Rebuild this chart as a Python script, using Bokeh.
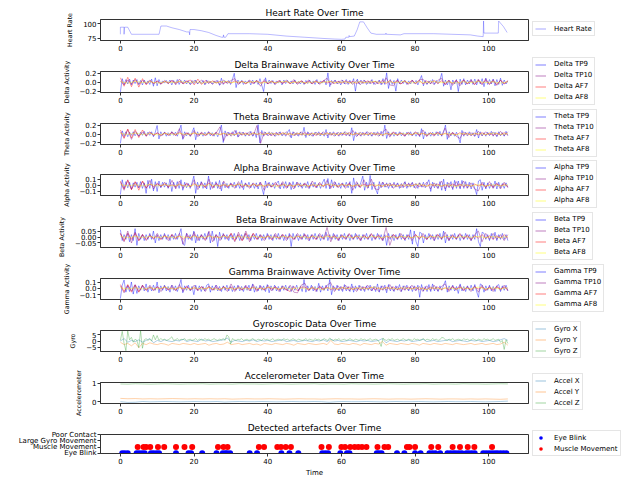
import numpy as np
from bokeh.plotting import figure
from bokeh.layouts import column, row
from bokeh.models import Range1d, FixedTicker, Legend, LegendItem, CustomJSTickFormatter
from bokeh.embed import file_html
from bokeh.resources import INLINE

FONT = "DejaVu Sans"
T_END = 105.2
X_TICKS = [0, 20, 40, 60, 80, 100]

# ---------------- Heart rate (time, bpm) ----------------
HR_T = [0.0, 0.0, 1.0, 1.0, 1.1, 2.0, 3.0, 10.5, 11.0, 12.5, 14.0, 16.0, 17.0, 18.0, 18.7, 18.8, 18.9,
        20.0, 22.0, 24.0, 26.0, 27.5, 27.9, 28.0, 28.1, 28.6, 29.2, 35.0, 40.0, 45.0, 50.0, 55.0,
        58.0, 60.0, 61.0, 61.2, 62.0, 62.1, 62.2, 63.5, 64.3, 65.0, 66.0, 67.0, 68.0, 69.5, 72.0,
        72.1, 72.2, 76.0, 77.0, 85.0, 90.0, 95.0, 97.0, 98.5, 98.6, 98.7, 102.6, 102.7, 104.0, 105.0]
HR_V = [82, 94, 94, 82, 94, 94, 82, 82, 96, 96, 93, 90, 88, 86, 86, 81, 90,
        90, 88, 85, 80, 77, 77, 81, 77, 77, 83, 83, 82, 79, 77, 75,
        74, 73.5, 74, 77, 77, 80, 78, 79, 90, 103, 103, 93, 84, 82, 82,
        84, 82, 81, 83, 83, 82, 81, 79, 78, 104.5, 84, 84, 104.5, 95, 85]

# ---------------- Delta ----------------
DELTA_TP9 = [-0.22, 0.08, -0.05, 0.06, -0.04, 0.07, -0.06, 0.05, -0.03, 0.06, -0.05, 0.04, -0.06, 0.05, -0.04, 0.03, -0.05, 0.07, -0.09, 0.1,
             -0.08, 0.06, -0.04, 0.03, -0.02, 0.04, -0.03, 0.05, -0.06, 0.04, -0.03, 0.06, -0.05, 0.04, -0.03, 0.05, -0.04, 0.03, -0.05, 0.04,
             -0.03, 0.05, -0.04, 0.02, -0.03, 0.04, -0.06, 0.05, -0.03, 0.02, -0.04, 0.03, -0.02, 0.04, -0.07, 0.09, -0.05, 0.03, -0.02, 0.04,
             -0.05, 0.06, 0.2, -0.12, 0.05, -0.03, 0.04, -0.05, 0.03, -0.02, 0.04, -0.06, 0.05, -0.03, 0.04, -0.05, 0.08, -0.07, -0.21, 0.1,
             -0.04, 0.05, -0.03, 0.04, -0.05, 0.03, -0.02, 0.04, -0.06, 0.05, -0.03, 0.04, -0.02, 0.03, -0.04, 0.05, -0.03, 0.02, -0.04, 0.03,
             -0.05, 0.04, -0.03, 0.05, -0.04, 0.03, -0.05, 0.06, -0.04, 0.03, -0.02, 0.05, -0.06, 0.21, -0.1, 0.04, -0.03, 0.05, -0.04, 0.03,
             -0.06, 0.05, -0.04, 0.06, -0.05, 0.04, -0.03, 0.08, -0.2, 0.07, -0.04, 0.05, -0.03, 0.04, -0.05, 0.03, -0.04, 0.06, -0.05, 0.03,
             -0.04, 0.05, -0.06, 0.08, -0.05, 0.21, -0.14, 0.06, -0.05, 0.04, -0.2, 0.08, -0.04, 0.05, -0.03, 0.04, -0.05, 0.03, -0.04, 0.05,
             -0.03, 0.04, -0.06, 0.05, 0.15, -0.08, 0.04, -0.05, 0.03, -0.04, 0.06, -0.05, 0.04, -0.03, 0.05, 0.2, -0.09, 0.05, -0.06, 0.04,
             -0.17, 0.05, -0.04, 0.06, -0.21, 0.07, -0.05, 0.08, -0.06, 0.05, -0.04, 0.06, -0.05, 0.07, -0.06, 0.05, -0.04, 0.08, -0.1, 0.09,
             -0.05, 0.06, -0.04, 0.07, -0.08, 0.06, -0.05, 0.09, -0.07, 0.05, -0.04, 0.03]
DELTA_TP10 = [0.03, -0.06, 0.05, -0.04, 0.06, -0.05, 0.04, -0.03, 0.05, -0.04,
              0.03, -0.05, 0.04, -0.03, 0.05, -0.06, 0.07, -0.04, 0.03, -0.05,
              0.04, -0.03, 0.05, -0.04, 0.03, -0.05, 0.04, -0.06, 0.05, -0.03,
              0.04, 0.08, -0.05, 0.03, -0.04, 0.05, -0.03, 0.04, -0.09, 0.06,
              -0.04, 0.03, -0.05, 0.04, -0.03, 0.05, -0.04, 0.06, -0.05, 0.03,
              -0.04, 0.05, -0.03, 0.04, -0.05, 0.03, 0.09, -0.06, 0.04, -0.03,
              0.05, -0.04, 0.03, -0.05, 0.04, -0.06, 0.05, -0.03, 0.04, -0.05,
              0.03, -0.04, 0.1, -0.06, -0.08, 0.05, -0.04, 0.03, -0.05, 0.04,
              -0.03, 0.05, 0.07, -0.04, 0.03, -0.05, 0.04, 0.09, -0.06, 0.05,
              -0.07, 0.04, -0.08, 0.05, -0.04, 0.06, -0.05, 0.07, -0.06, 0.08,
              -0.05, 0.06, -0.07, 0.05, -0.04, 0.03]
DELTA_AF7 = [0.1, -0.09, 0.11, -0.1, 0.09, -0.11, 0.08, -0.06, 0.03, -0.02,
             0.02, -0.03, 0.02, -0.02, 0.03, -0.02, 0.02, -0.03, 0.02, 0.05,
             -0.06, 0.07, -0.05, 0.04, -0.02, 0.03, -0.02, 0.02, -0.03, 0.02,
             -0.02, 0.03, -0.02, 0.02, -0.03, 0.02, -0.02, 0.03, -0.02, 0.02,
             -0.03, 0.02, -0.02, 0.03, -0.02, 0.02, -0.03, 0.02, -0.02, 0.03,
             -0.02, 0.02, -0.03, 0.02, -0.02, 0.03, -0.02, 0.02, -0.03, 0.02,
             -0.02, 0.03, -0.02, 0.02, -0.03, 0.02, -0.02, 0.03, -0.02, 0.02,
             -0.03, 0.04, -0.03, 0.04, -0.02, 0.03, -0.04, 0.03, -0.03, 0.04,
             -0.03, 0.04, -0.04, 0.03, -0.03, 0.04, -0.03, 0.03, -0.04, 0.03,
             -0.03, 0.04, -0.03, 0.05, -0.04, 0.03, -0.05, 0.04, -0.03, 0.04,
             -0.04, 0.03, -0.05, 0.04, -0.03, 0.03]
DELTA_AF8 = [0.01, -0.02, 0.02, -0.01, 0.01, -0.02, 0.01, -0.01, 0.02, -0.01, 0.01, -0.02, 0.01,
             -0.01, 0.02, -0.01, 0.01, -0.01, 0.02, -0.02, 0.01, -0.01, 0.02, -0.01, 0.01, -0.02,
             0.01, -0.01, 0.02, -0.01, 0.01, -0.02, 0.01, -0.01, 0.02, -0.01, 0.01, -0.01, 0.02,
             -0.02, 0.01, -0.01, 0.02, -0.01, 0.01, -0.02, 0.01, -0.01, 0.02, -0.01, 0.01, -0.02, 0.01]

# ---------------- Theta ----------------
THETA_TP9 = [-0.21, 0.07, -0.04, 0.05, -0.06, 0.04, -0.03, 0.05, -0.04, 0.03, -0.05, 0.04, -0.03, 0.06, -0.05, 0.04, -0.03, 0.05, -0.06, 0.04,
             0.19, -0.11, 0.05, -0.03, 0.04, -0.05, 0.03, -0.04, 0.05, -0.03, 0.04, -0.05, 0.06, 0.2, -0.12, 0.05, -0.04, 0.03, -0.05, 0.04,
             0.14, -0.13, 0.05, -0.04, 0.03, -0.05, 0.04, -0.03, 0.05, -0.04, 0.03, -0.05, 0.04, -0.06, 0.05, 0.2, -0.19, 0.07, -0.05, 0.04,
             -0.03, 0.05, -0.04, 0.08, -0.07, 0.05, -0.03, 0.04, -0.05, 0.03, -0.04, 0.06, -0.05, 0.04, -0.08, 0.21, -0.2, 0.08, -0.05, 0.04,
             -0.03, 0.05, -0.04, 0.03, -0.05, 0.04, -0.03, 0.05, -0.04, 0.03, -0.05, 0.04, 0.1, -0.09, 0.05, -0.04, 0.03, -0.05, 0.04, -0.03,
             0.15, -0.08, 0.05, -0.04, 0.03, -0.05, 0.04, -0.03, 0.05, -0.04, 0.03, -0.05, 0.1, -0.09, 0.04, -0.03, 0.05, -0.04, 0.03, -0.05,
             0.04, -0.03, 0.05, -0.04, 0.03, -0.05, 0.14, -0.15, 0.05, -0.04, 0.03, -0.05, 0.04, -0.03, 0.05, -0.04, 0.03, -0.05, 0.04, -0.03,
             0.05, -0.04, 0.06, -0.05, 0.2, -0.1, 0.05, -0.04, 0.03, -0.05, 0.04, -0.03, 0.05, -0.04, 0.03, -0.05, 0.04, -0.03, 0.05, -0.04,
             0.03, -0.05, 0.04, -0.06, 0.12, -0.11, 0.05, -0.04, 0.03, -0.05, 0.04, -0.03, 0.05, -0.04, 0.06, -0.05, 0.04, 0.2, -0.12, 0.05,
             -0.04, 0.03, -0.05, 0.04, -0.06, -0.2, 0.08, -0.05, 0.04, -0.03, 0.05, -0.04, 0.03, -0.05, 0.1, -0.09, 0.05, -0.04, 0.03, -0.05,
             0.04, -0.03, 0.06, -0.05, 0.04, -0.06, 0.05, -0.04, 0.03, -0.05, 0.06, -0.04]
THETA_TP10 = [0.04, -0.08, 0.1, -0.12, 0.06, -0.05, 0.04, -0.03, 0.05, -0.04,
              0.03, -0.05, 0.04, -0.03, 0.05, -0.04, 0.12, -0.1, 0.03, -0.05,
              0.08, -0.06, 0.04, -0.03, 0.05, -0.04, 0.03, 0.16, -0.15, 0.04,
              -0.05, 0.08, -0.06, 0.04, -0.03, 0.05, -0.04, 0.19, -0.21, 0.05,
              -0.04, 0.03, -0.05, 0.04, -0.03, 0.05, -0.06, 0.04, -0.03, 0.05,
              -0.04, 0.03, -0.05, 0.04, -0.03, 0.05, -0.04, 0.03, -0.05, 0.04,
              -0.03, 0.05, -0.04, 0.08, -0.06, 0.04, -0.03, 0.05, -0.04, 0.03,
              -0.05, 0.04, 0.11, -0.07, 0.05, -0.04, 0.03, -0.05, 0.04, -0.03,
              0.05, -0.04, 0.09, -0.06, 0.03, -0.05, 0.04, -0.03, 0.13, -0.08,
              0.04, -0.05, -0.1, 0.05, -0.04, 0.03, -0.05, 0.06, -0.04, 0.05,
              -0.03, 0.04, -0.05, 0.06, -0.04, 0.05]
THETA_AF7 = [0.09, -0.1, 0.11, -0.09, 0.1, -0.08, 0.09, -0.05, 0.03, -0.02,
             0.02, -0.03, 0.02, -0.02, 0.03, -0.02, 0.04, -0.03, 0.02, -0.02,
             0.03, -0.02, 0.02, -0.03, 0.02, -0.02, 0.03, -0.02, 0.02, -0.03,
             0.02, -0.02, 0.03, -0.02, 0.02, -0.03, 0.03, -0.02, 0.03, -0.02,
             0.02, -0.03, 0.02, -0.02, 0.03, -0.02, 0.02, -0.03, 0.02, -0.02,
             0.03, -0.02, 0.02, -0.03, 0.02, -0.02, 0.03, -0.02, 0.02, -0.03,
             0.02, -0.02, 0.03, -0.02, 0.02, -0.03, 0.02, -0.02, 0.03, -0.02,
             0.02, -0.03, 0.02, -0.02, 0.03, -0.02, 0.02, -0.03, 0.02, -0.02,
             0.03, -0.02, 0.02, -0.03, 0.02, -0.02, 0.03, -0.02, 0.02, -0.03,
             0.02, -0.02, 0.03, -0.02, 0.02, -0.03, 0.02, -0.02, 0.03, -0.02,
             0.02, -0.03, 0.02, -0.02, 0.03, -0.02]
THETA_AF8 = [0.01, -0.01, 0.02, -0.01, 0.01, -0.02, 0.01, -0.01, 0.01, -0.01, 0.02, -0.01, 0.01,
             -0.01, 0.01, -0.02, 0.01, -0.01, 0.01, -0.01, 0.02, -0.01, 0.01, -0.01, 0.01, -0.02,
             0.01, -0.01, 0.01, -0.01, 0.02, -0.01, 0.01, -0.01, 0.01, -0.02, 0.01, -0.01, 0.01,
             -0.01, 0.02, -0.01, 0.01, -0.01, 0.01, -0.02, 0.01, -0.01, 0.01, -0.01, 0.02, -0.01, 0.01]

# ---------------- Alpha ----------------
ALPHA_TP9 = [-0.15, 0.09, -0.05, 0.06, -0.04, 0.05, -0.06, 0.04, -0.03, 0.05, -0.04, 0.06, -0.05, 0.04, -0.13, 0.08, -0.05, 0.1, -0.09, 0.06,
             -0.1, 0.07, -0.04, 0.05, -0.03, 0.04, -0.05, 0.1, -0.1, 0.05, -0.04, 0.06, -0.05, 0.09, -0.08, 0.05, -0.04, 0.03, -0.05, 0.04,
             0.15, -0.13, 0.05, -0.04, 0.06, -0.05, 0.04, -0.06, 0.15, -0.07, 0.05, -0.04, 0.06, -0.05, 0.08, -0.09, 0.05, -0.04, 0.03, -0.05,
             0.04, -0.03, 0.05, -0.04, 0.03, -0.05, 0.08, -0.07, 0.04, -0.03, 0.05, -0.04, 0.03, -0.05, 0.04, -0.06, 0.05, -0.04, -0.15, 0.07,
             -0.04, 0.05, -0.03, 0.04, -0.05, 0.03, 0.07, -0.06, 0.04, -0.05, 0.06, -0.04, 0.05, -0.07, 0.06, -0.04, 0.05, -0.03, 0.04, -0.05,
             0.03, -0.04, 0.06, -0.05, 0.04, -0.03, 0.05, -0.04, 0.03, -0.05, 0.04, 0.1, -0.05, 0.11, -0.06, 0.09, -0.04, 0.05, -0.03, 0.04,
             -0.05, 0.04, -0.03, 0.05, -0.04, 0.06, -0.13, 0.12, -0.05, 0.04, -0.03, 0.05, 0.15, -0.08, 0.05, -0.04, 0.16, -0.07, 0.05, -0.06,
             -0.14, 0.06, -0.04, 0.05, -0.03, 0.04, -0.05, 0.03, -0.04, 0.05, -0.03, 0.04, -0.05, 0.03, -0.04, 0.06, -0.05, 0.04, -0.03, 0.05,
             -0.04, 0.03, -0.05, 0.04, -0.03, 0.05, -0.04, 0.03, 0.09, -0.1, 0.05, -0.04, 0.03, -0.05, 0.06, -0.08, 0.1, -0.09, 0.05, -0.04,
             0.06, -0.07, 0.08, -0.05, 0.07, -0.06, 0.08, -0.05, 0.06, -0.04, 0.05, -0.06, 0.04, -0.05, -0.15, 0.07, 0.09, -0.08, 0.05, -0.06,
             0.04, -0.05, 0.03, -0.04, 0.07, -0.06, 0.05, -0.04, 0.03, -0.05, 0.04, -0.03]
ALPHA_TP10 = [0.05, -0.08, 0.09, -0.07, 0.05, -0.04, 0.06, -0.05, 0.08, -0.06,
              0.04, -0.03, 0.05, -0.04, 0.08, -0.06, 0.07, -0.05, 0.04, -0.03,
              0.09, -0.07, 0.05, -0.04, 0.1, -0.05, 0.04, -0.06, 0.07, -0.04,
              0.03, -0.05, 0.06, -0.04, 0.03, -0.05, 0.04, -0.03, 0.05, -0.08,
              0.04, -0.03, 0.05, -0.04, 0.06, -0.05, 0.04, -0.06, 0.05, -0.03,
              0.04, -0.05, 0.07, -0.04, 0.05, -0.03, 0.08, -0.05, 0.06, -0.04,
              0.03, -0.05, 0.04, -0.08, 0.06, -0.04, 0.09, -0.05, 0.1, -0.06,
              -0.07, 0.05, -0.03, 0.04, -0.05, 0.03, -0.04, 0.05, -0.03, 0.04,
              -0.05, 0.04, -0.03, 0.05, -0.06, 0.04, -0.05, 0.07, -0.06, 0.04,
              -0.05, 0.06, -0.04, 0.07, -0.05, 0.04, -0.06, -0.09, 0.05, -0.04,
              0.06, -0.05, 0.04, -0.06, 0.05, -0.04]
ALPHA_AF7 = [0.07, -0.06, 0.08, -0.07, 0.06, -0.08, 0.07, -0.04, 0.02, -0.02,
             0.02, -0.01, 0.02, -0.02, 0.01, -0.02, 0.02, -0.01, 0.02, -0.02,
             0.03, -0.02, 0.02, -0.03, 0.04, -0.03, 0.02, -0.02, 0.01, -0.02,
             0.02, -0.01, 0.02, -0.02, 0.01, -0.02, 0.02, -0.01, 0.02, -0.02,
             0.01, -0.02, 0.02, -0.01, 0.02, -0.02, 0.01, -0.02, 0.02, -0.01,
             0.02, -0.02, 0.01, -0.02, 0.02, -0.01, 0.02, -0.02, 0.01, -0.02,
             0.02, -0.01, 0.02, -0.02, 0.01, -0.02, 0.02, -0.01, 0.02, -0.02,
             0.01, -0.02, 0.02, -0.01, 0.02, -0.02, 0.01, -0.02, 0.02, -0.01,
             0.02, -0.02, 0.01, -0.02, 0.02, -0.01, 0.02, -0.02, 0.01, -0.02,
             0.02, -0.01, 0.02, -0.02, 0.01, -0.02, 0.02, -0.01, 0.02, -0.02,
             0.01, -0.02, 0.02, -0.01, 0.02, -0.02]
ALPHA_AF8 = [0.01, -0.01, 0.01, -0.01, 0.02, -0.01, 0.01, -0.01, 0.01, -0.02, 0.01, -0.01, 0.01,
             -0.01, 0.01, -0.01, 0.02, -0.01, 0.01, -0.01, 0.01, -0.02, 0.01, -0.01, 0.01, -0.01,
             0.01, -0.01, 0.02, -0.01, 0.01, -0.01, 0.01, -0.02, 0.01, -0.01, 0.01, -0.01, 0.01,
             -0.01, 0.02, -0.01, 0.01, -0.01, 0.01, -0.02, 0.01, -0.01, 0.01, -0.01, 0.01, -0.01, 0.01]

# ---------------- Beta ----------------
BETA_TP9 = [0.06, -0.03, 0.02, -0.02, 0.03, -0.04, 0.02, -0.03, 0.07, -0.07, 0.03, -0.02, 0.02, -0.03, 0.02, -0.02, 0.03, -0.02, 0.05, -0.05,
            0.02, -0.03, 0.02, -0.02, 0.03, -0.02, 0.02, -0.03, 0.02, -0.02, 0.03, -0.02, 0.02, 0.07, -0.06, -0.07, 0.03, -0.02, 0.02, -0.03,
            0.05, -0.05, 0.02, -0.03, 0.02, -0.02, 0.03, -0.02, 0.04, -0.05, 0.05, -0.03, 0.02, -0.08, 0.04, -0.02, 0.03, -0.02, 0.02, -0.03,
            0.02, -0.02, 0.03, -0.02, 0.02, -0.03, 0.02, -0.02, 0.03, -0.02, 0.02, -0.03, 0.02, -0.02, 0.03, -0.02, 0.02, -0.03, 0.02, -0.02,
            0.03, -0.02, 0.02, -0.03, 0.02, -0.02, 0.03, -0.02, 0.02, -0.03, 0.02, -0.02, 0.03, -0.08, 0.03, -0.02, 0.02, -0.03, 0.02, -0.02,
            0.03, -0.02, 0.02, -0.03, 0.02, -0.02, 0.03, -0.02, 0.02, -0.03, 0.02, -0.02, 0.04, -0.03, 0.02, -0.02, 0.03, -0.02, 0.02, -0.03,
            0.02, -0.02, 0.03, -0.02, 0.02, -0.03, 0.02, -0.02, 0.03, -0.02, 0.02, -0.03, 0.02, -0.02, 0.03, -0.02, 0.02, -0.03, 0.02, -0.02,
            0.03, -0.02, 0.02, -0.03, 0.02, -0.07, 0.03, -0.02, 0.02, -0.03, 0.02, -0.02, 0.03, -0.02, 0.02, -0.03, 0.02, -0.02, 0.06, -0.06,
            0.05, -0.04, -0.08, 0.04, 0.03, -0.05, 0.02, -0.02, 0.03, -0.02, 0.02, -0.03, 0.02, -0.02, 0.03, -0.02, 0.05, -0.05, 0.02, -0.03,
            0.02, -0.02, 0.03, -0.02, 0.02, -0.03, 0.02, -0.02, 0.03, -0.02, 0.02, -0.03, 0.02, -0.02, 0.07, -0.04, -0.08, 0.04, 0.03, -0.02,
            0.02, -0.03, 0.03, -0.02, 0.04, -0.03, 0.02, -0.02, 0.03, -0.02, 0.02, -0.03]
BETA_TP10 = [0.03, -0.04, 0.05, -0.05, 0.04, -0.03, 0.02, -0.03, 0.02, -0.02,
             0.03, -0.02, 0.02, -0.03, 0.02, -0.02, 0.03, -0.06, 0.03, -0.02,
             0.04, -0.03, 0.02, -0.03, 0.05, -0.04, 0.02, -0.03, 0.02, -0.02,
             0.03, -0.04, 0.04, -0.03, 0.05, -0.04, 0.03, -0.02, 0.02, -0.03,
             0.02, -0.02, 0.03, -0.02, 0.02, -0.03, 0.02, -0.02, 0.03, -0.02,
             0.02, -0.03, 0.02, -0.02, 0.03, -0.02, 0.08, -0.04, 0.02, -0.03,
             0.02, -0.02, 0.03, -0.02, 0.02, -0.03, 0.02, -0.02, 0.03, -0.02,
             0.02, -0.03, 0.08, -0.07, 0.02, -0.02, 0.03, -0.02, 0.02, -0.03,
             0.02, -0.02, 0.03, -0.02, 0.02, -0.03, 0.02, -0.02, 0.04, -0.03,
             0.02, -0.02, 0.03, -0.02, 0.02, -0.03, 0.02, 0.05, -0.04, 0.03,
             -0.02, 0.03, -0.02, 0.02, -0.03, 0.02]
BETA_AF7 = [0.03, -0.03, 0.03, -0.02, 0.03, -0.03, 0.02, -0.02, 0.01, -0.01,
            0.01, -0.02, 0.01, -0.01, 0.02, -0.01, 0.01, -0.02, 0.01, -0.01,
            0.02, -0.01, 0.01, -0.02, 0.02, -0.01, 0.01, -0.01, 0.02, -0.01,
            0.03, -0.03, 0.02, -0.03, 0.03, -0.02, 0.03, -0.02, 0.01, -0.01,
            0.01, -0.02, 0.01, -0.01, 0.02, -0.01, 0.01, -0.02, 0.01, -0.01,
            0.02, -0.01, 0.01, -0.02, 0.01, -0.01, 0.02, -0.01, 0.01, -0.02,
            0.01, -0.01, 0.02, -0.01, 0.01, -0.02, 0.01, -0.01, 0.02, -0.01,
            0.01, -0.02, 0.01, -0.01, 0.02, -0.01, 0.01, -0.02, 0.01, -0.01,
            0.02, -0.01, 0.01, -0.02, 0.01, -0.01, 0.02, -0.01, 0.01, -0.02,
            0.01, -0.01, 0.02, -0.01, 0.01, -0.02, 0.01, -0.01, 0.02, -0.01,
            0.01, -0.02, 0.01, -0.01, 0.02, -0.01]
BETA_AF8 = [0.004, -0.005, 0.005, -0.004, 0.005, -0.005, 0.004, -0.004, 0.005, -0.005, 0.004, -0.005, 0.005,
            -0.004, 0.005, -0.005, 0.004, -0.004, 0.005, -0.005, 0.004, -0.005, 0.005, -0.004, 0.005, -0.005,
            0.004, -0.004, 0.005, -0.005, 0.004, -0.005, 0.005, -0.004, 0.005, -0.005, 0.004, -0.004, 0.005,
            -0.005, 0.004, -0.005, 0.005, -0.004, 0.005, -0.005, 0.004, -0.004, 0.005, -0.005, 0.004, -0.005, 0.005]

# ---------------- Gamma ----------------
GAMMA_TP9 = [-0.16, 0.05, 0.13, -0.06, 0.04, -0.05, 0.1, -0.09, 0.05, -0.08, 0.04, -0.03, 0.05, -0.04, 0.07, -0.06, 0.03, -0.04, 0.05, -0.03,
             0.1, -0.07, 0.04, -0.03, 0.05, -0.04, 0.03, -0.06, 0.05, -0.03, 0.04, -0.05, 0.03, 0.14, -0.07, 0.04, -0.03, 0.05, -0.04, 0.03,
             -0.1, 0.05, -0.03, 0.04, -0.05, 0.03, -0.04, 0.05, 0.07, -0.06, 0.04, -0.03, 0.05, -0.04, 0.03, -0.05, 0.04, -0.03, 0.05, -0.04,
             0.03, -0.05, 0.04, -0.03, 0.05, -0.04, 0.03, -0.05, 0.04, -0.03, 0.05, -0.04, 0.07, -0.06, 0.03, -0.04, 0.05, -0.03, 0.04, -0.05,
             0.06, -0.07, 0.04, -0.03, 0.05, -0.04, 0.03, -0.05, 0.04, -0.03, 0.05, -0.04, 0.03, -0.05, 0.04, -0.03, 0.05, -0.04, 0.03, -0.05,
             0.14, -0.06, 0.04, -0.03, 0.05, -0.04, 0.03, -0.05, 0.08, -0.06, 0.04, -0.03, 0.05, -0.04, 0.14, -0.1, 0.04, -0.03, 0.05, -0.04,
             0.03, -0.05, 0.06, -0.04, 0.03, -0.05, 0.07, -0.06, 0.04, -0.03, 0.05, -0.04, 0.03, -0.05, 0.04, -0.03, 0.05, -0.04, 0.03, -0.05,
             0.07, -0.06, 0.04, -0.03, 0.05, -0.07, 0.06, -0.04, 0.03, -0.05, 0.04, -0.03, 0.06, -0.05, 0.04, -0.03, 0.05, -0.04, 0.03, -0.05,
             0.04, -0.03, 0.05, -0.14, 0.06, -0.04, 0.03, -0.05, 0.06, -0.05, 0.07, -0.04, 0.03, -0.05, 0.04, -0.03, 0.05, 0.12, -0.06, 0.04,
             -0.03, 0.05, -0.04, 0.03, -0.08, 0.07, -0.04, 0.03, -0.05, 0.04, -0.03, 0.05, -0.04, 0.06, -0.05, -0.14, 0.07, 0.05, -0.06, 0.04,
             -0.03, 0.05, -0.04, 0.03, -0.05, 0.04, 0.06, -0.05, 0.04, -0.03, 0.05, -0.04]
GAMMA_TP10 = [0.04, -0.07, 0.05, -0.04, 0.06, -0.05, 0.04, -0.03, 0.05, -0.04,
              0.03, -0.05, 0.04, -0.03, 0.05, -0.04, 0.06, -0.05, 0.04, -0.03,
              0.05, -0.04, 0.03, -0.05, 0.04, -0.03, 0.05, -0.04, 0.03, -0.05,
              0.07, -0.05, 0.04, -0.03, 0.05, -0.04, 0.06, -0.05, 0.04, -0.03,
              0.05, -0.04, 0.03, -0.05, 0.04, -0.03, 0.05, -0.06, -0.07, 0.05,
              0.08, -0.04, 0.03, -0.05, 0.04, -0.03, 0.05, 0.09, -0.05, 0.04,
              -0.03, 0.05, -0.04, 0.03, -0.05, 0.04, -0.03, 0.05, -0.04, 0.03,
              -0.05, 0.04, -0.03, 0.06, -0.04, 0.03, -0.05, 0.04, -0.03, 0.05,
              -0.04, 0.03, -0.05, 0.04, -0.03, 0.05, -0.04, 0.03, 0.07, -0.05,
              0.04, -0.03, 0.05, -0.04, 0.03, -0.05, 0.04, -0.06, 0.05, -0.04,
              0.03, -0.05, 0.04, -0.03, 0.05, -0.04]
GAMMA_AF7 = [0.06, -0.05, 0.06, -0.06, 0.05, -0.06, 0.05, -0.03, 0.02, -0.02,
             0.02, -0.01, 0.02, -0.02, 0.01, -0.02, 0.02, -0.01, 0.02, -0.02,
             0.01, -0.02, 0.02, -0.01, 0.02, -0.02, 0.01, -0.02, 0.02, -0.01,
             0.02, -0.02, 0.01, -0.02, 0.02, -0.01, 0.02, -0.02, 0.01, -0.02,
             0.02, -0.01, 0.02, -0.02, 0.01, -0.02, -0.05, 0.03, -0.04, 0.02,
             0.02, -0.02, 0.01, -0.02, 0.02, -0.01, 0.02, -0.02, 0.01, -0.02,
             0.02, -0.01, 0.02, -0.02, 0.01, -0.02, 0.02, -0.01, 0.02, -0.02,
             0.01, -0.02, 0.02, -0.01, 0.02, -0.02, 0.01, -0.02, 0.02, -0.01,
             0.02, -0.02, 0.01, -0.02, 0.02, -0.01, 0.02, -0.02, 0.01, -0.02,
             0.02, -0.01, 0.02, -0.02, 0.01, -0.02, 0.02, -0.01, 0.02, -0.02,
             0.01, -0.02, 0.02, -0.01, 0.02, -0.02]
GAMMA_AF8 = [0.01, -0.01, 0.01, -0.01, 0.01, -0.01, 0.02, -0.01, 0.01, -0.01, 0.01, -0.01, 0.01,
             -0.02, 0.01, -0.01, 0.01, -0.01, 0.01, -0.01, 0.02, -0.01, 0.01, -0.01, 0.01, -0.01,
             0.01, -0.02, 0.01, -0.01, 0.01, -0.01, 0.01, -0.01, 0.02, -0.01, 0.01, -0.01, 0.01,
             -0.01, 0.01, -0.02, 0.01, -0.01, 0.01, -0.01, 0.01, -0.01, 0.02, -0.01, 0.01, -0.01, 0.01]

# ---------------- Gyroscope ----------------
GYRO_X = [0.0, 2.0, -1.0, 0.5, -0.5, 1.0, -1.0, 0.5, 2.0, -1.5,
          0.5, -0.5, 1.0, 0.0, -0.5, 0.5, 0.0, 1.5, -0.5, 0.5,
          0.0, -0.5, 1.5, 0.0, 0.5, -0.5, 0.0, 0.5, 1.0, 2.5,
          -1.0, 0.5, 0.0, -0.5, 0.5, 0.0, 1.0, -0.5, 0.5, 0.0,
          0.5, -0.5, 0.0, 0.5, 1.0, -0.5, 0.0, 0.5, -0.5, 0.0,
          0.5, 0.0, -0.5, 0.5, 0.0, 1.0, -0.5, 1.5, 0.0, 0.5,
          -0.5, 0.0, 0.5, 0.0, -0.5, 0.5, 0.0, 0.5, -0.5, 0.0,
          0.5, 2.0, -1.5, 0.5, 0.0, -0.5, 0.5, 0.0, 1.0, -0.5,
          0.0, 0.5, 1.5, -0.5, 0.0, 0.5, -0.5, 0.0, 0.5, 1.0,
          -0.5, 0.0, 0.5, 0.0, -0.5, 0.5, 0.0, 0.5, -0.5, 0.0,
          0.5, -0.5, 0.0, 1.0, 2.0, 0.5]
GYRO_Y = [-1.0, -3.0, -2.0, -4.0, -1.5, -5.5, -2.0, -3.0, -1.5, -2.5,
          -3.0, -2.0, -2.5, -3.5, -2.0, -2.5, -3.0, -2.0, -2.5, -3.0,
          -2.0, -3.0, -2.5, -2.0, -3.5, -2.5, -2.0, -3.0, -2.5, -1.0,
          -3.0, -2.5, -2.0, -3.0, -2.5, -2.0, -3.0, -2.5, -3.5, -2.0,
          -2.5, -3.0, -2.0, -2.5, -3.0, -2.0, -2.5, -3.5, -2.0, -2.5,
          -3.0, -2.0, -2.5, -3.0, -2.5, -2.0, -3.0, 0.5, -2.5, -3.0,
          -2.0, -2.5, -3.0, -2.0, -2.5, -3.5, -2.0, -2.5, -3.0, -2.0,
          -2.5, -0.5, -3.5, -2.0, -2.5, -3.0, -2.0, -2.5, -3.0, -2.0,
          -2.5, -3.5, -2.0, -2.5, -3.0, -2.0, -2.5, -3.0, -2.0, -2.5,
          -3.0, -2.0, -2.5, -3.0, -2.5, -2.0, -3.0, -2.5, -2.0, -3.0,
          -2.5, -2.0, -3.0, -2.5, -1.0, -3.5]
GYRO_Z = [0.5, 8.0, -2.0, -8.0, 8.2, 1.0, 3.0, -1.0, 1.5, 0.5, -5.5, 8.5, -6.0, 1.0, 2.0, 0.5, 1.5, 0.0, 5.0, 1.0,
          4.5, 0.5, 2.0, 1.0, 1.5, 0.5, 1.0, 2.0, 3.5, 0.5, 1.0, 2.0, 0.5, 1.5, 1.0, 2.0, 0.5, 1.0, 1.5, 0.5,
          1.0, 2.0, 0.5, 1.5, 1.0, 0.5, 2.0, 1.0, 1.5, 0.5, 1.0, 2.0, 1.0, 0.5, 1.5, 1.0, 2.0, 0.5, 5.0, 3.5,
          -2.5, 2.0, 1.0, 0.5, 1.5, 1.0, 2.0, 0.5, 1.0, 1.5, 0.5, 1.0, 2.0, 1.0, 0.5, 1.5, 1.0, 0.5, 2.0, 1.0,
          1.5, 0.5, 1.0, 2.0, 0.5, 1.0, 1.5, 1.0, 0.5, 2.0, 1.0, 1.5, 0.5, 1.0, 2.0, 1.0, 0.5, 1.5, 1.0, 0.5,
          1.0, 2.0, 0.5, 1.5, 1.0, 0.5, 2.0, 1.0, 1.5, 0.5, 1.0, 2.0, 1.0, 0.5, 2.5, 1.0, 0.5, 1.5, 1.0, 2.0,
          0.5, 1.0, 1.5, 0.5, 1.0, 2.0, 1.0, 0.5, 1.5, 1.0, 0.5, 2.0, 1.0, 1.5, 0.5, 1.0, 2.0, 0.5, 1.0, 1.5,
          1.0, -1.0, -4.5, 2.5, 1.0, 0.5, 1.5, 1.0, 2.0, 0.5, 1.0, 1.5, 0.5, 1.0, 2.0, 1.0, 0.5, 1.5, 1.0, 0.5,
          2.0, 1.0, 1.5, 0.5, 1.0, 2.0, 0.5, 1.5, 1.0, 0.5, 2.0, 1.0, 1.5, 0.5, 1.0, 3.0, 2.5, 1.0, 0.5, 1.5,
          1.0, 2.0, 0.5, 1.0, 1.5, 1.0, 0.5, 2.0, 1.0, 1.5, 0.5, 1.0, 2.0, 1.0, 0.5, 1.5, 1.0, 0.5, 2.0, 1.0,
          1.5, 0.5, 1.0, 2.0, 0.5, 1.0, 1.5, -1.0, 0.5, -7.0, 1.0, -2.0]

# ---------------- Accelerometer ----------------
ACCEL_X = [0.0, -0.04, -0.03, 0.01, -0.01, 0.0, 0.01, 0.0, -0.01, 0.0, 0.01, 0.0, 0.0, 0.01, -0.02, 0.0, 0.01, 0.0,
           0.0, 0.01, 0.0, -0.01, 0.0, 0.01, 0.0, 0.0, 0.01, 0.0, -0.03, 0.0, 0.01, 0.0, 0.0, 0.01, 0.0, -0.01,
           0.0, 0.01, 0.0, 0.0, 0.01, 0.0, -0.01, 0.0, 0.01, 0.0, 0.0, 0.01, 0.0, -0.01, 0.0, 0.01, 0.03]
ACCEL_Y = [0.18, 0.16, 0.17, 0.15, 0.16, 0.15, 0.16, 0.17, 0.16, 0.15, 0.16, 0.15, 0.16, 0.15, 0.16, 0.14, 0.15, 0.16,
           0.15, 0.15, 0.16, 0.15, 0.14, 0.15, 0.16, 0.15, 0.15, 0.14, 0.15, 0.16, 0.15, 0.15, 0.14, 0.15, 0.16, 0.15,
           0.14, 0.15, 0.15, 0.14, 0.15, 0.16, 0.15, 0.14, 0.15, 0.15, 0.14, 0.15, 0.14, 0.15, 0.14, 0.13, 0.15]
ACCEL_Z = [0.97, 0.96, 0.98, 0.97, 0.96, 0.97, 0.98, 0.97, 0.96, 0.97, 0.97, 0.98, 0.96, 0.97, 0.97, 0.96, 0.98, 0.97,
           0.97, 0.96, 0.97, 0.98, 0.97, 0.96, 0.97, 0.97, 0.98, 0.96, 0.97, 0.97, 0.96, 0.98, 0.97, 0.97, 0.96, 0.97,
           0.98, 0.97, 0.96, 0.97, 0.97, 0.98, 0.96, 0.97, 0.97, 0.96, 0.98, 0.97, 0.97, 0.96, 0.97, 0.98, 0.97]

# ---------------- Detected artefacts ----------------
ARTEFACT_LEVELS = ["Eye Blink", "Muscle Movement", "Large Gyro Movement", "Poor Contact"]
EYE_BLINK_T = [0.5, 1.2, 2.0, 4.4, 5.1, 5.9, 6.6, 8.3, 9.0, 9.8, 10.5, 15.1, 18.5, 19.2, 22.2, 26.1, 27.8,
               28.5, 29.0, 29.8, 35.1, 37.1, 43.7, 45.9, 48.3, 54.8, 55.6, 56.4, 59.7, 61.5, 62.2, 69.6,
               70.2, 70.9, 75.1, 77.1, 80.0, 81.5, 83.9, 84.7, 85.5, 86.8, 88.8, 89.6, 90.4, 91.1, 91.9,
               92.7, 93.9, 94.6, 95.4, 96.2, 98.5, 99.3, 100.1, 100.9, 101.7, 102.4, 103.2, 104.0, 104.8]
MUSCLE_T = [4.7, 6.3, 7.0, 8.1, 10.2, 11.9, 15.1, 17.4, 19.5, 26.5, 28.0, 29.1, 37.6, 39.0, 42.6, 43.6,
            44.9, 46.3, 54.6, 56.6, 60.0, 61.0, 62.4, 63.6, 64.6, 65.6, 66.8, 69.8, 71.7, 72.7, 77.8,
            78.5, 80.0, 84.4, 86.3, 90.2, 92.2, 94.3, 96.1, 100.9]
EYE_BLINK_LEVEL = 0
MUSCLE_LEVEL = 1

EEG_COLORS = ["blue", "purple", "red", "yellow"]
TAB = ["#1f77b4", "#ff7f0e", "#2ca02c"]
EEG_SUFFIX = ["TP9", "TP10", "AF7", "AF8"]

MAIN_W = 529
LEG_W = 99
LEFT = 100
RIGHT = 1
HEIGHTS = [55, 52, 51, 52, 52, 52, 52, 52, 61]
TOPS = [19, 16, 16, 16, 16, 16, 16, 16, 16]
FRAMES = [21, 21, 21, 21, 21, 21, 21, 21, 20]
TOTAL_H = sum(HEIGHTS)
AX = "#333333"


def ts(arr):
    return np.linspace(0.0, T_END, len(arr))


def fmt(d):
    return CustomJSTickFormatter(args=dict(d=d), code="""
        const v = Math.abs(tick) < 1e-9 ? 0 : tick;
        const s = Math.abs(v).toFixed(d);
        return (v < 0 ? "\\u2212" : "") + s;
    """)


# one tall, axis-free figure that carries every legend, to the right of the panels.
# Its ranges lie far away from the data, so the proxy renderers (which reuse the real
# series) are never visible there; only their legend samples are drawn.
lg = figure(width=LEG_W, height=TOTAL_H, x_range=Range1d(1000, 1001), y_range=Range1d(1000, 1001),
            x_axis_type=None, y_axis_type=None,
            output_backend="svg", toolbar_location=None,
            min_border_left=0, min_border_right=0, min_border_top=0, min_border_bottom=0)
lg.xgrid.visible = False
lg.ygrid.visible = False
lg.outline_line_color = None
lg.background_fill_color = "white"
lg.border_fill_color = "white"


def make_panel(i, title, ylabel, yr, yticks, formatter, series, last=False, overrides=None):
    h = HEIGHTS[i]
    fh = FRAMES[i]
    top = TOPS[i]
    p = figure(width=MAIN_W, height=h, x_range=Range1d(-5.4, 110.8), y_range=Range1d(*yr),
               output_backend="svg", toolbar_location=None,
               min_border_left=LEFT, min_border_right=RIGHT, min_border_top=top,
               min_border_bottom=h - top - fh)
    p.title.text = title
    p.title.align = "center"
    p.title.text_font = FONT
    p.title.text_font_size = "9px"
    p.title.text_font_style = "normal"
    p.title.text_color = "black"
    p.title.standoff = 3
    p.xgrid.visible = False
    p.ygrid.visible = False
    p.outline_line_color = AX
    p.outline_line_width = 1
    p.background_fill_color = "white"
    p.border_fill_color = "white"

    for ax in (p.xaxis[0], p.yaxis[0]):
        ax.major_label_text_font = FONT
        ax.major_label_text_font_size = "7px"
        ax.major_label_text_color = "black"
        ax.axis_line_color = AX
        ax.major_tick_line_color = AX
        ax.minor_tick_line_color = None
        ax.major_tick_out = 3
        ax.major_tick_in = 0
        ax.axis_label_text_font = FONT
        ax.axis_label_text_font_size = "6.3px"
        ax.axis_label_text_font_style = "normal"
        ax.axis_label_text_color = "black"
    p.xaxis.ticker = FixedTicker(ticks=X_TICKS)
    p.xaxis.major_label_standoff = 1
    p.yaxis.ticker = FixedTicker(ticks=yticks)
    p.yaxis.major_label_standoff = 1
    if formatter is not None:
        p.yaxis.formatter = formatter
    if overrides is not None:
        p.yaxis.major_label_overrides = overrides
    if ylabel:
        p.yaxis.axis_label = ylabel
        p.yaxis.axis_label_standoff = 7
    if last:
        p.xaxis.axis_label = "Time"
        p.xaxis.axis_label_text_font_size = "7px"
        p.xaxis.axis_label_standoff = 2

    items = []
    for s in series:
        kind, label, x, y, color, alpha = s
        if kind == "line":
            p.line(x, y, line_color=color, line_alpha=alpha, line_width=0.8)
            proxy = lg.line(x, y, line_color=color, line_alpha=alpha, line_width=1.0)
        else:
            p.scatter(x, y, size=6, fill_color=color, line_color=None, marker="circle")
            proxy = lg.scatter(x, y, size=6, fill_color=color, line_color=None, marker="circle")
        items.append(LegendItem(label=label, renderers=[proxy]))

    # legend centred on this panel's frame, expressed from the bottom of the legend column
    n = len(items)
    leg_h = 2 * 2 + n * 9 + (n - 1) * 2
    frame_centre_from_top = sum(HEIGHTS[:i]) + top + fh / 2.0
    ly = TOTAL_H - frame_centre_from_top - leg_h / 2.0
    legend = Legend(items=items, location=(3, ly), padding=2, spacing=2, margin=0,
                    glyph_width=11, glyph_height=9, label_height=9, label_standoff=8,
                    label_text_font=FONT, label_text_font_size="7px", label_text_color="black",
                    border_line_color="#cccccc", border_line_width=1,
                    background_fill_color="white", background_fill_alpha=0.85)
    lg.add_layout(legend)
    return p


def eeg_series(band, arrays):
    out = []
    for k, arr in enumerate(arrays):
        out.append(("line", f"{band} {EEG_SUFFIX[k]}", ts(arr), arr, EEG_COLORS[k], 0.5))
    return out


panels = []
panels.append(make_panel(0, "Heart Rate Over Time", "Heart Rate", (71.5, 107.0), [75, 100], fmt(0),
                         [("line", "Heart Rate", HR_T, HR_V, "blue", 0.35)]))
panels.append(make_panel(1, "Delta Brainwave Activity Over Time", "Delta Activity", (-0.23, 0.24), [-0.2, 0.0, 0.2], fmt(1),
                         eeg_series("Delta", [DELTA_TP9, DELTA_TP10, DELTA_AF7, DELTA_AF8])))
panels.append(make_panel(2, "Theta Brainwave Activity Over Time", "Theta Activity", (-0.235, 0.235), [-0.2, 0.0, 0.2], fmt(1),
                         eeg_series("Theta", [THETA_TP9, THETA_TP10, THETA_AF7, THETA_AF8])))
panels.append(make_panel(3, "Alpha Brainwave Activity Over Time", "Alpha Activity", (-0.165, 0.175), [-0.1, 0.0, 0.1], fmt(1),
                         eeg_series("Alpha", [ALPHA_TP9, ALPHA_TP10, ALPHA_AF7, ALPHA_AF8])))
panels.append(make_panel(4, "Beta Brainwave Activity Over Time", "Beta Activity", (-0.088, 0.088), [-0.05, 0.0, 0.05], fmt(2),
                         eeg_series("Beta", [BETA_TP9, BETA_TP10, BETA_AF7, BETA_AF8])))
panels.append(make_panel(5, "Gamma Brainwave Activity Over Time", "Gamma Activity", (-0.175, 0.155), [-0.1, 0.0, 0.1], fmt(1),
                         eeg_series("Gamma", [GAMMA_TP9, GAMMA_TP10, GAMMA_AF7, GAMMA_AF8])))
panels.append(make_panel(6, "Gyroscopic Data Over Time", "Gyro", (-8.7, 8.7), [-5, 0, 5], fmt(0),
                         [("line", "Gyro X", ts(GYRO_X), GYRO_X, TAB[0], 0.45),
                          ("line", "Gyro Y", ts(GYRO_Y), GYRO_Y, TAB[1], 0.45),
                          ("line", "Gyro Z", ts(GYRO_Z), GYRO_Z, TAB[2], 0.45)]))
panels.append(make_panel(7, "Accelerometer Data Over Time", "Accelerometer", (-0.1, 1.05), [0, 1], fmt(0),
                         [("line", "Accel X", ts(ACCEL_X), ACCEL_X, TAB[0], 0.45),
                          ("line", "Accel Y", ts(ACCEL_Y), ACCEL_Y, TAB[1], 0.45),
                          ("line", "Accel Z", ts(ACCEL_Z), ACCEL_Z, TAB[2], 0.45)]))
panels.append(make_panel(8, "Detected artefacts Over Time", None, (-0.05, 3.05), [0, 1, 2, 3], None,
                         [("scatter", "Eye Blink", EYE_BLINK_T, [EYE_BLINK_LEVEL] * len(EYE_BLINK_T), "blue", 1.0),
                          ("scatter", "Muscle Movement", MUSCLE_T, [MUSCLE_LEVEL] * len(MUSCLE_T), "red", 1.0)],
                         last=True, overrides={k: lab for k, lab in enumerate(ARTEFACT_LEVELS)}))

layout = row(column(*panels, spacing=0), lg, spacing=0)
with open("out.html", "w", encoding="utf-8") as f:
    f.write(file_html(layout, INLINE))
